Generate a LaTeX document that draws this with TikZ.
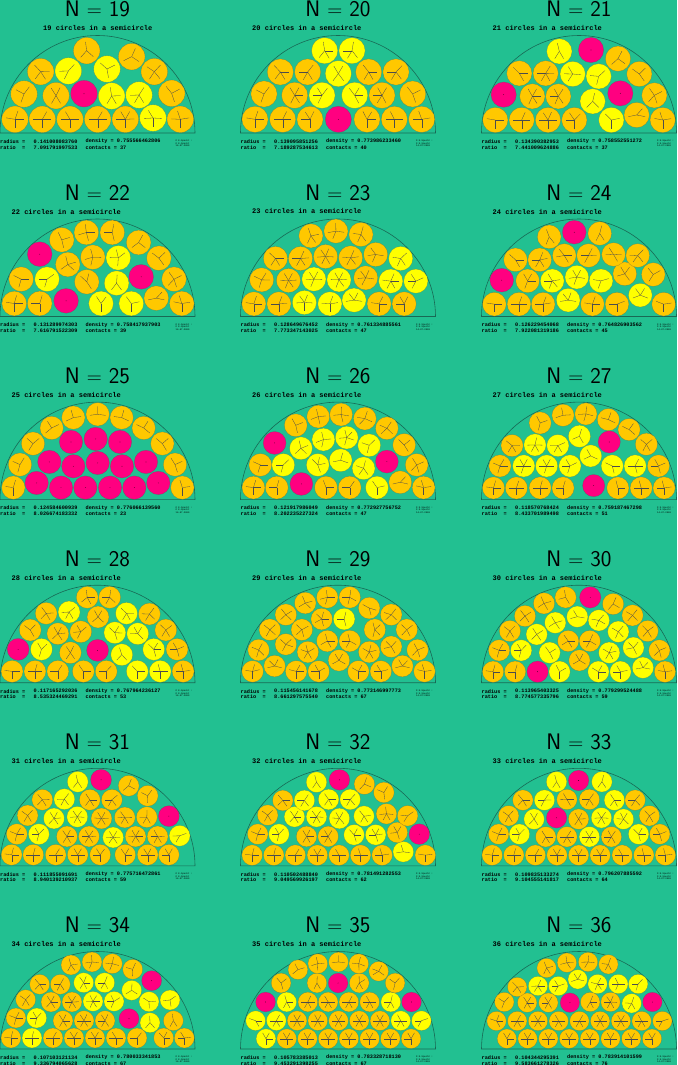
\documentclass[tikz,border=0pt]{standalone}
\usepackage{fontspec}
\newfontfamily\cour{Liberation Mono}
\definecolor{bg}{RGB}{34,192,145}
\definecolor{cO}{RGB}{255,200,0}
\definecolor{cY}{RGB}{255,255,0}
\definecolor{cM}{RGB}{255,0,128}
\definecolor{semicol}{RGB}{25,105,85}
\tikzset{
 semiline/.style={draw=semicol,line width=0.6pt},
 disc/.style={draw=black!70,line width=0.3pt,draw opacity=0.45},
 contact/.style={draw=black!70,line width=0.3pt},
 ptitle/.style={font=\sffamily\fontsize{22.5}{24}\selectfont,inner sep=0pt},
 sub/.style={font=\cour\bfseries\fontsize{7}{8}\selectfont,inner sep=0pt,anchor=west},
 info/.style={font=\cour\bfseries\fontsize{5.2}{6}\selectfont,inner sep=0pt,anchor=west},
 tinytxt/.style={font=\cour\fontsize{2.3}{2.6}\selectfont,inner sep=0pt,anchor=west,align=left},
}
% #1 cx #2 by #3 SX #4 XC #5 YB #6 r #7 list
\newcommand\panel[7]{%
\begin{scope}[shift={(#1,#2)},yscale=-1]
\path[semiline] (-97.5,0) -- (97.5,0) arc[start angle=0,end angle=180,radius=97.5] -- cycle;
\gdef\CL{}%
\pgfmathsetmacro\rr{#6-0.45}%
\foreach \x/\y/\c [count=\k] in #7 {%
 \pgfmathsetmacro\u{(\x-#4)/#3}%
 \pgfmathsetmacro\v{(#5-\y)/3}%
 \ifnum\k=1 \xdef\CL{\u/\v/\c}\else\xdef\CL{\CL,\u/\v/\c}\fi
 \path[disc,fill=c\c] (\u,\v) circle[radius=\rr];
 \if\c M\fill[black] (\u,\v) circle[radius=0.35];\fi
}%
\pgfmathsetmacro\lim{2*#6+2.5}%
\pgfmathsetmacro\limR{97.5-#6-3}%
\pgfmathsetmacro\limB{#6+2.5}%
\pgfmathsetmacro\ll{0.65*#6}%
\foreach \ua/\va/\ca [count=\i] in \CL {%
 \if\ca M\else
 \foreach \ub/\vb/\cb [count=\j] in \CL {%
  \ifnum\j>\i
   \if\cb M\else
    \pgfmathsetmacro\dd{veclen((\ua)-(\ub),(\va)-(\vb))}%
    \ifdim\dd pt<\lim pt
      \pgfmathsetmacro\fx{\ll*((\ub)-(\ua))/\dd}%
      \pgfmathsetmacro\fy{\ll*((\vb)-(\va))/\dd}%
      \pgfmathsetmacro\gx{-(\fx)}%
      \pgfmathsetmacro\gy{-(\fy)}%
      \draw[contact] (\ua,\va) -- ++(\fx,\fy);
      \draw[contact] (\ub,\vb) -- ++(\gx,\gy);
    \fi
   \fi
  \fi
 }%
 \pgfmathsetmacro\dz{veclen(\ua,\va)}%
 \ifdim\dz pt>\limR pt \draw[contact] (\ua,\va) -- ++({\ll*(\ua)/\dz},{\ll*(\va)/\dz});\fi
 \ifdim\va pt<\limB pt \draw[contact] (\ua,\va) -- ++(0,-\ll);\fi
 \fi
}%
\end{scope}}
% #1 cx #2 by #3 N #4 radius #5 density #6 ratio #7 contacts #8 subtitle x
\newcommand\info[8]{%
\node[ptitle] at (#1,#2-124) {N $=$ #3};
\node[sub] at (#8,#2-105) {#3 circles in a semicircle};
\node[info] at (#1-97.5,#2+8.5) {radius =};
\node[info] at (#1-97.5,#2+14.3) {ratio\ \ =};
\node[info] at (#1-64,#2+8.5) {#4};
\node[info] at (#1-64,#2+14.3) {#6};
\node[info] at (#1-12,#2+8.5) {density = #5};
\node[info] at (#1-12,#2+14.3) {contacts = #7};
\node[tinytxt] at (#1+78,#2+10.5) {© E.Specht :\\© E.Specht\\ 14-07-2009};
}
\def\Lxix{45/358/O,127/358/O,210/358/O,293/358/O,376/358/O,459/354/Y,541/358/O,72/282/O,168/287/O,252/281/M,335/288/Y,417/285/Y,515/280/O,122/215/O,205/213/Y,321/207/Y,463/215/O,260/152/O,395/170/O}
\def\Lxx{87/358/O,170/358/O,252/358/O,337/358/M,423/358/O,505/358/O,587/358/O,114/282/O,206/286/O,288/286/Y,386/286/Y,468/286/O,560/282/O,163/216/O,245/216/O,337/221/Y,428/216/O,510/216/O,296/152/Y,378/152/Y}
\def\Lxxi{133/360/O,212/360/O,291/360/O,370/360/O,481/360/Y,557/345/O,635/360/O,158/284/M,244/289/O,322/289/O,425/304/Y,508/280/M,610/286/O,205/220/O,284/220/O,365/222/Y,443/229/Y,565/222/O,325/154/Y,420/150/M,501/176/O}
\def\Lxxii{33/341/O,92/341/O,153/333/M,234/341/Y,304/341/Y,362/325/O,421/341/O,49/268/O,109/268/Y,201/276/O,270/280/Y,327/261/M,403/268/O,92/193/M,157/224/O,215/202/O,274/204/Y,368/205/O,143/150/O,200/128/O,260/128/O,321/158/O}
\def\Lxxiii{588/342/O,646/342/O,705/338/Y,764/342/Y,820/331/Y,878/342/O,936/342/O,606/270/O,668/272/O,727/268/Y,785/270/Y,847/264/O,905/274/Y,963/274/Y,638/206/O,696/206/O,754/200/O,812/204/O,870/194/O,928/206/Y,720/138/O,778/124/O,836/134/O}
\def\Lxxiv{1145/343/O,1202/343/O,1258/343/O,1316/331/Y,1372/343/O,1429/343/O,1483/316/Y,1537/343/O,1162/271/M,1222/273/O,1279/273/Y,1336/262/Y,1392/273/Y,1447/252/O,1513/254/O,1194/210/O,1250/210/O,1307/197/O,1363/197/O,1421/194/O,1477/197/O,1272/141/O,1330/127/M,1389/131/O}
\def\Lxxv{40/382/O,110/368/M,183/382/M,256/382/M,330/382/M,403/382/M,475/368/M,547/382/O,60/313/O,148/305/M,220/318/M,293/308/M,366/318/M,438/305/M,525/313/O,99/250/O,213/245/M,287/236/M,360/245/M,487/250/O,155/203/O,220/172/O,293/162/O,365/172/O,431/203/O}
\def\Lxxvi{587/344/O,641/344/O,698/333/M,755/344/O,810/344/O,873/344/Y,927/328/O,981/344/O,603/276/O,656/276/Y,736/276/Y,789/262/Y,842/286/Y,896/266/M,965/276/O,636/210/M,697/226/Y,749/200/Y,803/194/Y,855/217/Y,936/216/O,685/157/O,737/131/O,790/125/O,845/137/O,896/166/O}
\def\Lxxvii{1143/345/O,1196/345/O,1251/345/O,1304/345/O,1375/338/M,1431/345/O,1485/345/O,1538/345/O,1158/279/O,1213/279/Y,1266/279/Y,1320/279/Y,1368/249/Y,1418/279/Y,1471/279/Y,1525/279/O,1186/218/O,1239/216/Y,1292/218/Y,1342/190/Y,1411/207/M,1497/214/O,1251/150/O,1304/127/O,1357/123/O,1409/140/O,1457/170/O}
\def\Lxxviii{28/346/O,81/346/O,134/346/O,193/346/O,246/346/O,318/346/Y,371/346/Y,424/346/O,42/280/M,96/280/Y,163/290/O,226/283/M,282/296/Y,356/280/Y,410/280/O,70/222/O,134/233/O,187/227/O,266/230/Y,319/233/Y,384/222/O,107/172/O,160/168/Y,227/183/O,293/172/Y,346/174/O,202/124/O,254/124/O}
\def\Lxxix{585/346/O,636/330/O,686/346/O,738/346/O,785/313/O,830/346/O,882/346/O,932/330/O,983/346/O,599/282/O,662/265/O,713/288/O,758/255/O,810/255/O,855/288/O,906/272/O,967/282/O,625/221/O,699/221/O,745/189/O,797/189/Y,868/221/O,942/221/O,662/176/O,707/141/O,758/124/O,810/124/O,855/156/O,906/176/O}
\def\Lxxx{1142/347/O,1193/347/O,1245/347/M,1296/347/Y,1386/347/Y,1437/347/Y,1489/335/Y,1540/347/O,1156/283/O,1207/283/Y,1273/290/Y,1342/313/O,1411/290/Y,1467/275/Y,1527/283/O,1181/225/O,1243/235/Y,1316/255/O,1366/255/O,1432/227/Y,1500/225/O,1216/180/O,1286/200/Y,1337/182/Y,1387/193/Y,1465/178/O,1260/142/O,1310/124/O,1367/124/M,1420/144/O}
\def\Lxxxi{27/347/O,77/347/O,129/347/O,180/347/O,232/347/O,290/347/O,342/347/O,391/347/O,39/285/O,90/285/Y,155/292/O,206/292/O,262/295/Y,314/292/O,365/292/O,416/290/Y,64/229/O,125/238/Y,179/233/Y,235/238/O,289/235/O,340/234/O,391/231/M,98/182/O,149/180/Y,208/182/O,259/182/O,342/170/O,180/128/Y,234/122/M,298/140/O}
\def\Lxxxii{584/348/O,634/348/O,684/348/O,735/348/O,785/348/O,835/348/O,885/348/O,934/338/Y,985/348/O,597/285/O,646/285/Y,710/292/O,760/292/O,820/287/Y,870/287/Y,920/280/O,971/285/M,620/228/O,682/233/Y,733/233/Y,786/238/Y,843/231/Y,895/224/O,944/230/O,655/184/O,705/184/Y,761/181/Y,811/181/Y,889/160/O,733/129/Y,786/122/M,844/135/O}
\def\Lxxxiii{1140/348/O,1190/348/O,1240/348/O,1290/348/O,1340/348/O,1390/348/O,1441/348/O,1491/348/O,1541/348/O,1155/285/O,1203/285/Y,1264/293/O,1313/293/O,1365/293/Y,1416/293/O,1479/285/Y,1528/285/O,1178/230/O,1237/240/Y,1289/236/M,1340/240/O,1393/236/Y,1444/240/Y,1504/230/O,1211/183/O,1261/183/Y,1313/181/O,1365/181/O,1423/183/Y,1471/183/O,1289/128/Y,1340/124/M,1394/128/Y}
\def\Lxxxiv{33/414/O,96/414/Y,159/414/O,222/414/O,285/414/O,348/414/O,411/414/O,491/414/O,553/414/O,48/354/O,110/354/Y,189/362/O,252/362/O,315/362/O,387/356/M,450/368/Y,520/362/O,77/299/O,153/306/O,216/306/O,279/304/Y,342/304/Y,447/305/Y,510/300/Y,119/253/O,181/253/O,251/248/Y,314/248/Y,395/271/Y,455/242/M,213/195/O,276/186/O,337/191/O,398/208/O}
\def\Lxxxv{616/350/Y,664/350/O,712/350/O,760/350/O,808/350/O,856/350/O,904/350/O,952/350/O,592/296/Y,640/296/Y,688/296/O,736/296/O,784/296/O,832/296/O,880/296/O,928/296/Y,976/296/Y,615/240/M,664/240/Y,713/240/O,760/240/O,808/240/O,856/240/O,905/240/Y,953/240/M,651/183/O,734/183/O,783/183/M,832/183/O,915/183/O,690/143/O,736/125/O,784/120/O,831/125/O,877/148/O}
\def\Lxxxvi{1174/350/O,1222/350/O,1270/350/O,1318/350/O,1366/350/O,1414/350/O,1462/350/O,1510/350/O,1150/297/O,1198/297/O,1246/297/O,1294/297/O,1342/297/O,1390/297/O,1438/297/O,1486/297/O,1534/297/O,1168/240/O,1221/242/O,1270/242/O,1320/242/M,1367/240/O,1414/240/O,1463/244/Y,1511/240/M,1198/195/O,1246/192/Y,1293/192/Y,1338/172/Y,1384/186/Y,1432/186/Y,1478/186/Y,1266/138/O,1313/122/O,1362/120/O,1409/127/O}
\begin{document}
\begin{tikzpicture}[x=1pt,y=-1pt]
\useasboundingbox (0,0) rectangle (677,1065);
\fill[bg] (0,0) rectangle (677,1065);
\panel{97.5}{133}{3}{292.5}{399}{13.75}{\Lxix}
\panel{338}{133}{3}{336}{399}{13.56}{\Lxx}
\panel{579}{133}{3}{384}{399}{13.10}{\Lxxi}
\panel{97.5}{316.5}{2.316}{225.8}{380}{12.80}{\Lxxii}
\panel{338}{316.5}{2.316}{782.8}{380}{12.54}{\Lxxiii}
\panel{579}{316.5}{2.316}{1341}{380}{12.31}{\Lxxiv}
\panel{97.5}{499.6}{3}{292.5}{418}{12.15}{\Lxxv}
\panel{338}{499.6}{2.316}{782.8}{380}{11.89}{\Lxxvi}
\panel{579}{499.6}{2.316}{1341}{380}{11.56}{\Lxxvii}
\panel{97.5}{682.7}{2.316}{225.8}{380}{11.42}{\Lxxviii}
\panel{338}{682.7}{2.316}{782.8}{380}{11.26}{\Lxxix}
\panel{579}{682.7}{2.316}{1341}{380}{11.11}{\Lxxx}
\panel{97.5}{865.8}{2.316}{225.8}{380}{10.91}{\Lxxxi}
\panel{338}{865.8}{2.316}{782.8}{380}{10.77}{\Lxxxii}
\panel{579}{865.8}{2.316}{1341}{380}{10.71}{\Lxxxiii}
\panel{97.5}{1049}{3}{292.5}{447}{10.44}{\Lxxxiv}
\panel{338}{1049}{2.316}{782.8}{381}{10.31}{\Lxxxv}
\panel{579}{1049}{2.316}{1341}{381}{10.17}{\Lxxxvi}
\info{97.5}{133}{19}{0.141008083760}{0.755566462806}{7.091791997533}{37}{43}
\info{338}{133}{20}{0.139095851256}{0.773986233460}{7.189287534613}{40}{252}
\info{579}{133}{21}{0.134390382953}{0.758552551272}{7.441009624886}{37}{492.5}
\info{97.5}{316.5}{22}{0.131289974303}{0.758417937903}{7.616791522309}{39}{11.5}
\info{338}{316.5}{23}{0.128649676452}{0.761334885561}{7.773347143025}{47}{252}
\info{579}{316.5}{24}{0.126229454068}{0.764826903562}{7.922081319186}{45}{492.5}
\info{97.5}{499.6}{25}{0.124584600939}{0.776066139560}{8.026674183332}{23}{11.5}
\info{338}{499.6}{26}{0.121917986049}{0.772927756752}{8.202235227324}{47}{252}
\info{579}{499.6}{27}{0.118570768424}{0.759187467298}{8.433701989498}{51}{492.5}
\info{97.5}{682.7}{28}{0.117165292036}{0.767964236127}{8.535324469291}{53}{11.5}
\info{338}{682.7}{29}{0.115456141678}{0.773146997773}{8.661297575540}{67}{252}
\info{579}{682.7}{30}{0.113965403325}{0.779299524488}{8.774577335796}{59}{492.5}
\info{97.5}{865.8}{31}{0.111855091691}{0.775716472861}{8.940139210937}{59}{11.5}
\info{338}{865.8}{32}{0.110502488840}{0.781491282553}{9.049569926197}{62}{252}
\info{579}{865.8}{33}{0.109835133274}{0.796207885592}{9.104555141817}{64}{492.5}
\info{97.5}{1049}{34}{0.107103121134}{0.780033341853}{9.336794065628}{67}{11.5}
\info{338}{1049}{35}{0.105783385013}{0.783328718130}{9.453291398255}{67}{252}
\info{579}{1049}{36}{0.104344295391}{0.783914101599}{9.583661278326}{76}{492.5}
\end{tikzpicture}
\end{document}
